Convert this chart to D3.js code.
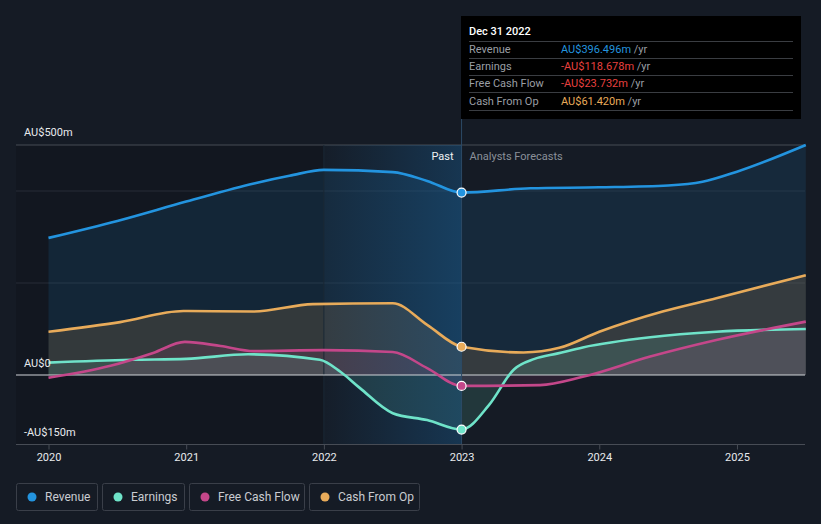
<!DOCTYPE html>
<html><head><meta charset="utf-8">
<script src="https://cdn.jsdelivr.net/npm/d3@7"></script>
<style>
html,body{margin:0;padding:0;background:#151b25;}
svg{display:block;font-family:Roboto,"Noto Sans",sans-serif;}
</style></head>
<body><svg id="c" width="821" height="524"></svg>
<script>
const seriesNames = ["Revenue","Earnings","Free Cash Flow","Cash From Op"];
const seriesColors = ["#2394df","#6fe3c9","#c4478a","#e8ab5a"];

const revenueDates = [2020, 2020.5, 2021, 2021.5, 2021.75, 2022, 2022.5, 2022.75, 2023, 2023.5, 2024, 2024.5, 2024.75, 2025, 2025.5];
const revenueValues = [298, 335, 377, 417, 433, 446, 441, 422, 396.496, 406, 408, 412, 420, 442, 500];

const earningsDates = [2020, 2020.6, 2021, 2021.45, 2021.97, 2022.12, 2022.26, 2022.5, 2022.75, 2023, 2023.2, 2023.38, 2023.53, 2023.7, 2023.88, 2024.37, 2024.85, 2025.5];
const earningsValues = [27, 33, 35, 45, 33, 7, -28, -83, -98, -118.678, -65, 12, 35, 47, 60, 82, 94, 100];

const fcfDates = [2020, 2020.45, 2020.76, 2020.99, 2021.25, 2021.49, 2022, 2022.5, 2022.75, 2023, 2023.57, 2023.88, 2024.37, 2024.85, 2025.5];
const fcfValues = [-6, 20, 48, 72, 63, 52, 54, 50, 15, -23.732, -22, -4, 40, 76, 116];

const cfoDates = [2020, 2020.52, 2020.98, 2021.49, 2021.92, 2022.5, 2022.75, 2023, 2023.45, 2023.71, 2024, 2024.46, 2024.85, 2025.5];
const cfoValues = [94, 115, 139, 138, 154, 156, 109, 61.42, 49, 59, 94, 138, 167, 217];

const xTickLabels = ["2020","2021","2022","2023","2024","2025"];
const xTickValues = [2020, 2021, 2022, 2023, 2024, 2025];
const yGridValues = [-150, 0, 200, 400, 500];
const yLabelValues = [500, 0, -150];
const yLabelTexts = ["AU$500m","AU$0","-AU$150m"];

const tooltipTitle = "Dec 31 2022";
const tooltipValues = ["AU$396.496m","-AU$118.678m","-AU$23.732m","AU$61.420m"];
const tooltipColors = ["#2394df","#e8403f","#e8403f","#e8ab5a"];
const pastDate = 2023;
const pastStart = 2022;

const svg = d3.select("#c");
const left = 16, right = 805;
const x = d3.scaleLinear().domain([2020, 2025.5]).range([48.5, 805.8]);
const y = d3.scaleLinear().domain([-150, 500]).range([444, 145]);

const defs = svg.append("defs");
const g1 = defs.append("linearGradient").attr("id","pastGrad").attr("x1","0").attr("x2","1").attr("y1","0").attr("y2","0");
g1.append("stop").attr("offset","0%").attr("stop-color","#1a6fb0").attr("stop-opacity",0.03);
g1.append("stop").attr("offset","100%").attr("stop-color","#1a6fb0").attr("stop-opacity",0.32);

svg.append("rect").attr("x", left).attr("y", 145).attr("width", x(pastStart)-left).attr("height", 444-145)
  .attr("fill","#000").attr("opacity",0.13);

svg.append("g").selectAll("line").data(yGridValues.filter(v=>v!==0 && v!==-150)).join("line")
  .attr("x1", left).attr("x2", right).attr("y1", d=>y(d)).attr("y2", d=>y(d))
  .attr("stroke", d=> d===500 ? "#474c55" : "#262c36").attr("stroke-width",1);

const all = [
  {dates: revenueDates, values: revenueValues},
  {dates: earningsDates, values: earningsValues},
  {dates: fcfDates, values: fcfValues},
  {dates: cfoDates, values: cfoValues}
];
const areaGen = d3.area().x(d=>x(d[0])).y0(y(0)).y1(d=>y(d[1])).curve(d3.curveMonotoneX);
const lineGen = d3.line().x(d=>x(d[0])).y(d=>y(d[1])).curve(d3.curveMonotoneX);
const drawOrder = [0,3,1,2];
const opac = [0.12, 0.14, 0.13, 0.15];
drawOrder.forEach(i=>{
  const pts = all[i].dates.map((d,k)=>[d, all[i].values[k]]);
  svg.append("path").attr("d", areaGen(pts)).attr("fill", seriesColors[i]).attr("opacity", opac[i]);
});

svg.append("rect").attr("x", x(pastStart)).attr("y", 145).attr("width", x(pastDate)-x(pastStart)).attr("height", 444-145)
  .attr("fill","url(#pastGrad)");
svg.append("line").attr("x1", x(pastStart)).attr("x2", x(pastStart)).attr("y1",145).attr("y2",444)
  .attr("stroke","#1a2836").attr("stroke-width",1);

svg.append("line").attr("x1", left).attr("x2", right).attr("y1", y(0)).attr("y2", y(0))
  .attr("stroke","#d0d3d8").attr("stroke-width",1.2);

drawOrder.forEach(i=>{
  const pts = all[i].dates.map((d,k)=>[d, all[i].values[k]]);
  svg.append("path").attr("d", lineGen(pts)).attr("fill","none").attr("stroke", seriesColors[i]).attr("stroke-width",2.6);
});

svg.append("line").attr("x1", x(pastDate)).attr("x2", x(pastDate)).attr("y1", 119).attr("y2", 444)
  .attr("stroke","#2c4a66").attr("stroke-width",1);

[0,3,2,1].forEach(i=>{
  const k = all[i].dates.indexOf(pastDate);
  svg.append("circle").attr("cx", x(pastDate)).attr("cy", y(all[i].values[k])).attr("r",4.5)
    .attr("fill", seriesColors[i]).attr("stroke","#fff").attr("stroke-width",1.2);
});

svg.append("line").attr("x1", left).attr("x2", right).attr("y1", 444.5).attr("y2", 444.5).attr("stroke","#474c55").attr("stroke-width",1);
const xAxis = d3.axisBottom(x).tickValues(xTickValues).tickFormat((d,i)=>xTickLabels[i]).tickSize(5).tickPadding(4);
const ax = svg.append("g").attr("transform","translate(0,444.5)").call(xAxis);
ax.select(".domain").remove();
ax.selectAll(".tick line").attr("stroke","#474c55");
ax.selectAll(".tick text").attr("fill","#e8eaed").attr("font-size","11px").attr("font-family","Roboto, sans-serif");

svg.append("g").selectAll("text").data(yLabelValues).join("text")
  .attr("x", 24).attr("y", (d,i)=> [136, 367, 436][i])
  .attr("fill","#e8eaed").attr("font-size","11px").text((d,i)=>yLabelTexts[i]);

svg.append("text").attr("x", x(pastDate)-8).attr("y", 160).attr("text-anchor","end")
  .attr("fill","#f0f2f4").attr("font-size","11px").text("Past");
svg.append("text").attr("x", x(pastDate)+8).attr("y", 160)
  .attr("fill","#8a9099").attr("font-size","11px").text("Analysts Forecasts");

const tt = svg.append("g");
tt.append("rect").attr("x",461).attr("y",16).attr("width",340).attr("height",103).attr("fill","#000");
tt.append("text").attr("x",469).attr("y",35).attr("fill","#fff").attr("font-size","11px").attr("font-weight",500).text(tooltipTitle);
const rowY = [53, 70, 87, 105];
const sepY = [41, 58, 75, 92, 110];
sepY.forEach(s=> tt.append("line").attr("x1",469).attr("x2",793).attr("y1",s+0.5).attr("y2",s+0.5).attr("stroke","#3a3d42").attr("stroke-width",1));
seriesNames.forEach((n,i)=>{
  tt.append("text").attr("x",469).attr("y",rowY[i]).attr("fill","#9a9ea4").attr("font-size","11px").text(n);
  const t = tt.append("text").attr("x",561).attr("y",rowY[i]).attr("font-size","11px");
  t.append("tspan").attr("fill", tooltipColors[i]).text(tooltipValues[i]);
  t.append("tspan").attr("fill","#9a9ea4").text(" /yr");
});

const legendX = [16, 102, 189, 309];
const legendW = [81, 82, 115, 110];
const lg = svg.append("g");
seriesNames.forEach((n,i)=>{
  lg.append("rect").attr("x",legendX[i]+0.5).attr("y",483.5).attr("width",legendW[i]).attr("height",27).attr("rx",2)
    .attr("fill","none").attr("stroke","#3a3f49").attr("stroke-width",1);
  lg.append("circle").attr("cx",legendX[i]+16).attr("cy",497).attr("r",4.5).attr("fill",seriesColors[i]);
  lg.append("text").attr("x",legendX[i]+29).attr("y",501).attr("fill","#c9ccd1").attr("font-size","12px").text(n);
});
</script></body></html>
